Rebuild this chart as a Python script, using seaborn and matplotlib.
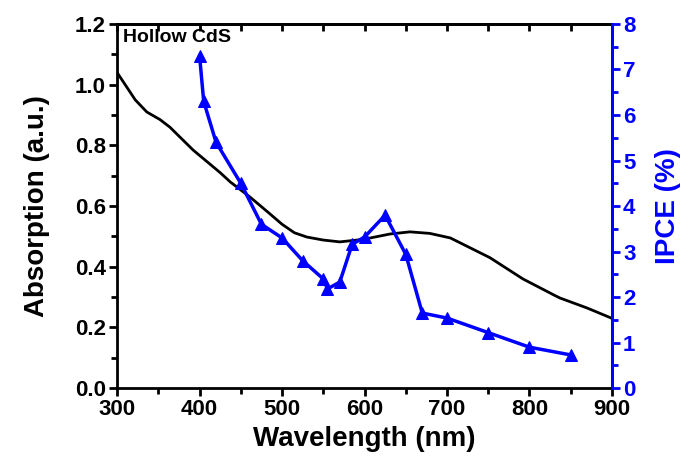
import pandas as pd
import matplotlib.pyplot as plt
import seaborn as sns
from matplotlib.ticker import MultipleLocator

# absorption spectrum
abs_wl = [300, 322, 336, 352, 364, 392, 425, 437, 461, 485, 500, 515, 530, 550, 570, 598,
          631, 655, 679, 704, 752, 792, 831, 837, 870, 900]
abs_val = [1.04, 0.95, 0.91, 0.885, 0.86, 0.785, 0.71, 0.68, 0.63, 0.575, 0.54, 0.512, 0.498,
           0.488, 0.482, 0.49, 0.508, 0.515, 0.51, 0.495, 0.43, 0.36, 0.305, 0.297, 0.264, 0.23]

# IPCE points
ipce_wl = [400, 405, 420, 450, 475, 500, 525, 550, 555, 570, 585, 600, 625, 650,
           670, 700, 750, 800, 850]
ipce_val = [7.3, 6.3, 5.4, 4.5, 3.6, 3.3, 2.8, 2.4, 2.18, 2.33, 3.16, 3.32, 3.8, 2.94,
            1.65, 1.54, 1.22, 0.9, 0.73]

df_abs = pd.DataFrame({'Wavelength': abs_wl, 'Absorption': abs_val})
df_ipce = pd.DataFrame({'Wavelength': ipce_wl, 'IPCE': ipce_val})

sns.set_style("ticks")
plt.rcParams['font.family'] = ['Liberation Sans', 'DejaVu Sans']
plt.rcParams['font.weight'] = 'bold'
plt.rcParams['text.color'] = 'black'
plt.rcParams['axes.labelcolor'] = 'black'
plt.rcParams['xtick.color'] = 'black'
plt.rcParams['ytick.color'] = 'black'
plt.rcParams['axes.edgecolor'] = 'black'

fig = plt.figure(figsize=(6.97, 4.61), dpi=100)
ax = fig.add_axes([0.168, 0.158, 0.710, 0.790])

sns.lineplot(data=df_abs, x='Wavelength', y='Absorption', color='black', linewidth=2, ax=ax)
ax.set_xlim(300, 900)
ax.set_ylim(0, 1.2)
ax.xaxis.set_major_locator(MultipleLocator(100))
ax.xaxis.set_minor_locator(MultipleLocator(50))
ax.yaxis.set_major_locator(MultipleLocator(0.2))
ax.yaxis.set_minor_locator(MultipleLocator(0.1))
ax.yaxis.set_major_formatter(plt.FormatStrFormatter('%.1f'))
ax.tick_params(axis='both', which='major', direction='out', length=6, width=2, labelsize=16, pad=2)
ax.tick_params(axis='both', which='minor', direction='out', length=4, width=2)
for lab in ax.get_xticklabels() + ax.get_yticklabels():
    lab.set_fontweight('bold')
for s in ax.spines.values():
    s.set_linewidth(2)
ax.set_xlabel('Wavelength (nm)', fontsize=20, fontweight='bold', labelpad=4)
ax.set_ylabel('Absorption (a.u.)', fontsize=20, fontweight='bold', labelpad=18)
ax.text(0.012, 0.985, 'Hollow CdS', transform=ax.transAxes, fontsize=14,
        fontweight='bold', va='top', ha='left')

# top axis: inward ticks, no labels
top = ax.secondary_xaxis('top')
top.xaxis.set_major_locator(MultipleLocator(100))
top.xaxis.set_minor_locator(MultipleLocator(50))
top.tick_params(which='both', direction='in', length=5, width=2, labeltop=False)
top.spines['top'].set_linewidth(2)

ax2 = ax.twinx()
sns.lineplot(data=df_ipce, x='Wavelength', y='IPCE', color='blue', linewidth=2.5,
             marker='^', markersize=9, markeredgecolor='blue', ax=ax2)
ax2.set_ylim(0, 8)
ax2.yaxis.set_major_locator(MultipleLocator(1))
ax2.yaxis.set_minor_locator(MultipleLocator(0.5))
ax2.tick_params(axis='y', which='major', direction='out', length=6, width=2,
                colors='blue', labelsize=16, pad=2)
ax2.tick_params(axis='y', which='minor', direction='out', length=4, width=2, colors='blue')
for lab in ax2.get_yticklabels():
    lab.set_fontweight('bold')
ax2.spines['right'].set_color('blue')
ax2.spines['right'].set_linewidth(2)
for k in ['top', 'left', 'bottom']:
    ax2.spines[k].set_visible(False)
ax2.set_ylabel('IPCE (%)', fontsize=20, fontweight='bold', color='blue', labelpad=14)

fig.savefig('out.png', dpi=100)
